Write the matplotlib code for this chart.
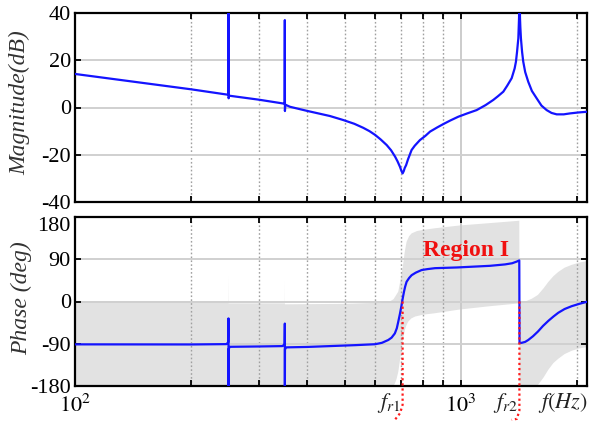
import matplotlib
matplotlib.use('Agg')
import matplotlib.pyplot as plt
import numpy as np
from matplotlib.ticker import FixedLocator, NullFormatter, FixedFormatter

plt.rcParams['font.family'] = ['Liberation Serif', 'DejaVu Serif']
plt.rcParams['mathtext.fontset'] = 'stix'
plt.rcParams['axes.unicode_minus'] = False

# ---------------- data ----------------
mag_freq = [100, 200, 249.5, 250, 250.2, 251, 300, 349.5, 350, 350.2, 351, 361,
            399, 458, 496, 530, 559, 580, 600, 620, 643, 660, 676, 686, 696,
            702, 707, 712, 716, 722, 730, 746, 760, 784, 810, 833, 870, 902,
            940, 986, 1040, 1100, 1160, 1215, 1250, 1290, 1320, 1356, 1380,
            1391, 1400, 1411, 1417, 1421, 1425, 1428, 1433, 1443, 1453, 1470,
            1497, 1530, 1574, 1620, 1671, 1720, 1774, 1850, 1921, 2020, 2130]
mag_db = [14.2, 7.7, 5.4, 60, 3.9, 5.0, 3.3, 1.6, 37, -1.5, 1.2, 0.3,
          -1.4, -3.6, -5.3, -6.9, -8.6, -10.0, -11.6, -13.5, -15.9, -18.1,
          -20.8, -22.8, -25.1, -26.8, -27.9, -26.9, -25.6, -24.4, -22.0,
          -18.0, -16.2, -13.8, -12.0, -10.2, -8.4, -7.0, -5.5, -3.9, -2.5,
          -1.1, 1.0, 3.2, 4.8, 6.7, 9.2, 12.4, 16.5, 19.4, 23.5, 29.3, 38,
          55, 38, 34, 29.3, 23.5, 19.4, 15.0, 10.9, 7.0, 3.9, 0.8, -1.1,
          -2.3, -2.9, -2.9, -2.5, -2.1, -1.8]

ph_freq = [100, 200, 247, 249.6, 250, 250.1, 250.3, 252, 300, 345, 349.6, 350,
           350.1, 350.3, 353, 400, 532, 600, 625, 649, 662, 675, 683, 689, 696,
           703, 708, 713, 718, 724, 735, 746, 765, 792, 820, 858, 978, 1191,
           1303, 1360, 1397, 1419, 1421, 1440, 1470, 1497, 1540, 1586, 1635,
           1689, 1740, 1791, 1860, 1940, 2030, 2130]
ph_deg = [-91.3, -91.5, -90.8, -87, -36, -180, -101, -96.5, -95.8, -95, -91,
          -47, -180, -102, -97.7, -96.8, -93, -91, -88, -82, -77, -68, -57,
          -43, -26, -7, 8, 21, 32, 42, 50, 56, 61.5, 67, 69, 71, 72.5, 76, 79,
          81.5, 85, 87.5, -88.5, -88, -86, -82, -74, -64, -52, -41, -32, -24,
          -16, -10, -5, -0.5]

band_hi_freq = [100, 249.8, 250, 250.2, 349.8, 350, 350.2, 500, 649, 670, 689,
                700, 709, 716, 724, 735, 746, 770, 792, 858, 996, 1191, 1419,
                1421, 1480, 1530, 1586, 1640, 1689, 1740, 1791, 1860, 1940,
                2030, 2130]
band_hi = [0, 0, 54, -4, -4, 43, -6, -5, -2, 5, 21, 50, 78, 105, 127, 139,
           145, 150, 152, 156, 162, 167, 172, -3, 1, 6, 14, 28, 42, 54, 63,
           72, 78, 83, 86]

band_lo_freq = [100, 663, 675, 682, 689, 696, 703, 710, 717, 724, 731, 745,
                762, 800, 858, 996, 1191, 1419, 1421, 1540, 1586, 1640, 1689,
                1740, 1791, 1860, 1940, 2030, 2130]
band_lo = [-185, -185, -175, -165, -150, -125, -99, -78, -60, -50, -43, -36,
           -32, -28, -25, -17, -10, -4, -185, -183, -178, -162, -145, -131,
           -122, -112, -105, -100, -97]

fr1 = 707
fr2 = 1420

x_major = [100, 1000]
x_major_labels = [r'$10^2$', r'$10^3$']
x_minor = [200, 300, 400, 500, 600, 700, 800, 900, 2000]
mag_ticks = [-40, -20, 0, 20, 40]
ph_ticks = [-180, -90, 0, 90, 180]

# ---------------- figure ----------------
W, H = 590, 424
fig = plt.figure(figsize=(W / 100, H / 100), dpi=100)
ax1 = fig.add_axes([75 / W, 1 - 202 / H, 512 / W, 189 / H])
ax2 = fig.add_axes([75 / W, 1 - 386 / H, 512 / W, 169 / H])

blue = '#1414ff'
for ax, yt in ((ax1, mag_ticks), (ax2, ph_ticks)):
    ax.set_xscale('log')
    ax.set_xlim(100, 2126)
    ax.set_ylim(yt[0], yt[-1])
    ax.yaxis.set_major_locator(FixedLocator(yt))
    ax.xaxis.set_major_locator(FixedLocator(x_major))
    ax.xaxis.set_minor_locator(FixedLocator(x_minor))
    ax.xaxis.set_minor_formatter(NullFormatter())
    ax.tick_params(which='both', direction='in', top=True, right=True,
                   length=4, width=1.3, labelsize=16, pad=3)
    for sp in ax.spines.values():
        sp.set_linewidth(1.6)
    for m in x_minor:
        ax.axvline(m, color='#a0a0a0', ls=(0, (1.2, 1.6)), lw=1.0, zorder=1)
    ax.axvline(1000, color='#c8c8c8', lw=1.3, zorder=1)
    for y in yt[1:-1]:
        ax.axhline(y, color='#d0d0d0', lw=1.4, zorder=1)

ax1.tick_params(labelbottom=False)
ax2.xaxis.set_major_formatter(FixedFormatter(x_major_labels))
ax2.tick_params(axis='x', pad=6)
ax2.yaxis.get_major_ticks()[-1].label1.set_verticalalignment('top')

# magnitude
ax1.plot(mag_freq, mag_db, color=blue, lw=1.6, zorder=3)

# phase band + phase
poly_x = list(band_hi_freq) + list(band_lo_freq[::-1])
poly_y = list(band_hi) + list(band_lo[::-1])
ax2.fill(poly_x, poly_y, color='#e2e2e2', lw=0, zorder=0.5)
ax2.plot(ph_freq, ph_deg, color=blue, lw=1.6, zorder=3)

# red dotted markers for resonance frequencies
red = '#ff1a1a'
for fr, ybend in ((fr1, -220), (fr2, -232)):
    ax2.plot([fr, fr, fr, fr * 0.985, fr * 0.955],
             [0, -180, ybend, ybend - 18, -252],
             color=red, ls=(0, (1, 1.3)), lw=1.6, clip_on=False, zorder=4)

ax2.text(fr1 * 0.99, -0.10, r'$f_{r1}$', transform=ax2.get_xaxis_transform(),
         ha='right', va='center', fontsize=16, color='#222222')
ax2.text(fr2 * 0.99, -0.10, r'$f_{r2}$', transform=ax2.get_xaxis_transform(),
         ha='right', va='center', fontsize=16, color='#222222')
ax2.text(1845, -0.10, r'$f(Hz)$', transform=ax2.get_xaxis_transform(),
         ha='center', va='center', fontsize=16, color='#222222')

ax2.text(1030, 108, 'Region I', ha='center', va='center', fontsize=17,
         fontweight='bold', color='#f01010', zorder=5)

fig.text(20 / W, 1 - 102.5 / H, 'Magnitude(dB)', rotation=90, ha='center',
         va='center', fontsize=17, style='italic', color='#333333')
fig.text(22 / W, 1 - 298.5 / H, 'Phase (deg)', rotation=90, ha='center',
         va='center', fontsize=17, style='italic', color='#333333')

fig.savefig('out.png', dpi=100)
